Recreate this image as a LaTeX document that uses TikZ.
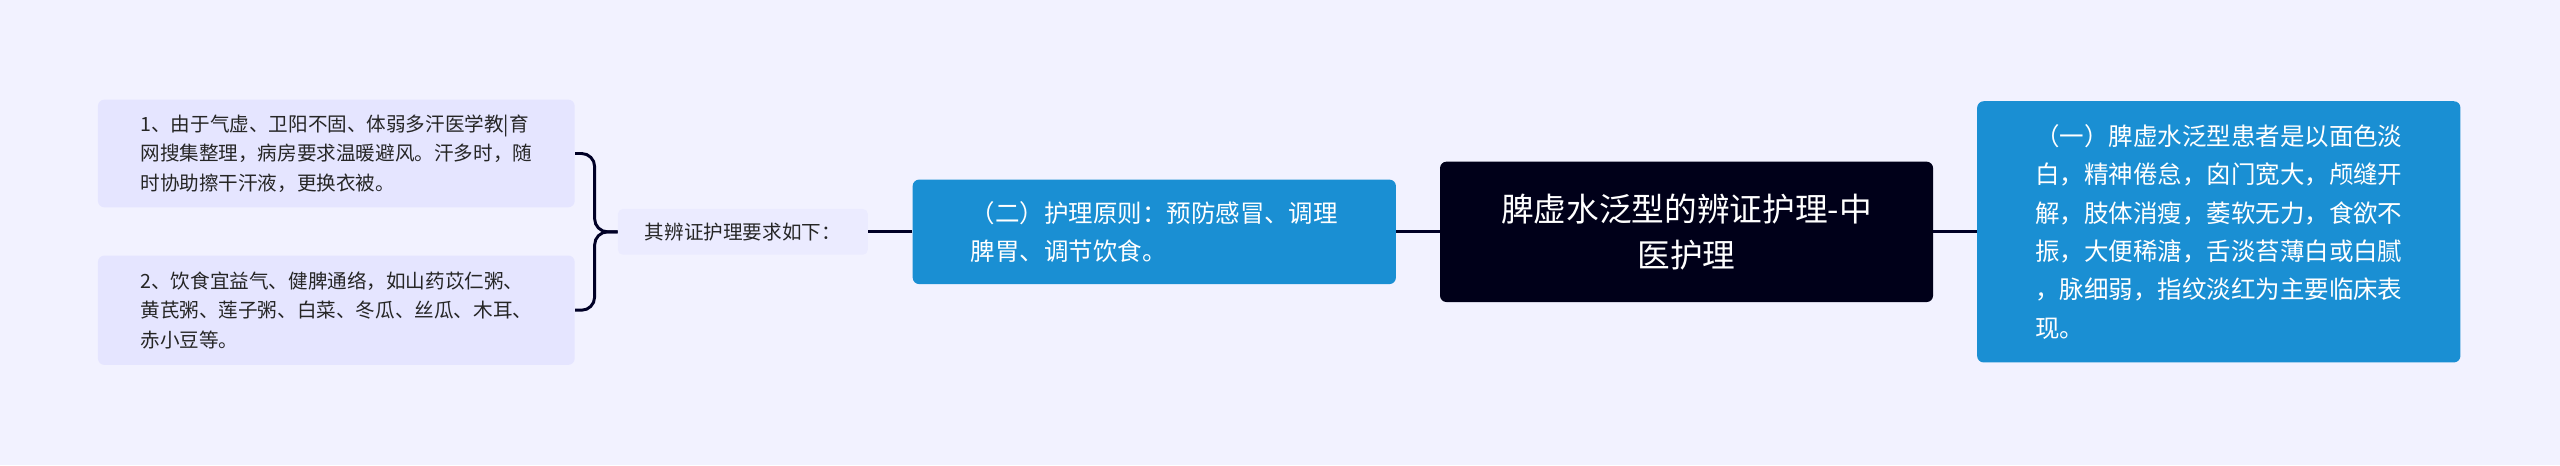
\documentclass[tikz,border=0pt]{standalone}
\usepackage{fontspec}
\setmainfont{Noto Sans CJK SC}
\begin{document}
\begin{tikzpicture}[x=1pt,y=-1pt,
  conn/.style={draw=black!85!blue,line width=1.8pt},
  blue/.style={fill=cyan!45!blue!85!white,draw=cyan!40!blue,rounded corners=4pt,text=white,align=left,inner sep=0pt},
  leaf/.style={fill=blue!10,rounded corners=4pt,text=black!85,align=left,inner sep=0pt,font=\fontsize{12}{18}\selectfont,minimum width=292pt}]
\fill[blue!5!white] (0,0) rectangle (1568,285);
\useasboundingbox (0,0) rectangle (1568,285);
\definecolor{nb}{HTML}{1A8FD3}
\node[fill=black!90!blue,draw=none,rounded corners=4pt,text=white,align=center,minimum width=302pt,minimum height=86pt,font=\fontsize{20}{28}\selectfont] (c) at (1033,142) {脾虚水泛型的辨证护理-中\\医护理};
\node[fill=nb,rounded corners=4pt,text=white,align=left,minimum width=296pt,minimum height=160pt,inner sep=0pt,font=\fontsize{15}{23.5}\selectfont] (r) at (1359,142) {（一）脾虚水泛型患者是以面色淡\\白，精神倦怠，囟门宽大，颅缝开\\解，肢体消瘦，萎软无力，食欲不\\振，大便稀溏，舌淡苔薄白或白腻\\，脉细弱，指纹淡红为主要临床表\\现。};
\node[fill=nb,rounded corners=4pt,text=white,align=left,minimum width=296pt,minimum height=64pt,inner sep=0pt,font=\fontsize{15}{23}\selectfont] (m) at (707,142) {（二）护理原则：预防感冒、调理\\脾胃、调节饮食。};
\node[fill=blue!8,rounded corners=3pt,minimum width=153pt,minimum height=28pt,inner sep=0pt,font=\fontsize{12}{14}\selectfont,text=black!85] (lab) at (455,142) {其辨证护理要求如下：};
\node[leaf,minimum height=66pt] (l1) at (206,94) {1、由于气虚、卫阳不固、体弱多汗医学教|育\\网搜集整理，病房要求温暖避风。汗多时，随\\时协助擦干汗液，更换衣被。};
\node[leaf,minimum height=67pt] (l2) at (206,190) {2、饮食宜益气、健脾通络，如山药苡仁粥、\\黄芪粥、莲子粥、白菜、冬瓜、丝瓜、木耳、\\赤小豆等。};
\draw[conn] (c.east) -- (r.west);
\draw[conn] (c.west) -- (m.east);
\draw[conn] (m.west) -- (lab.east);
\draw[conn,rounded corners=8pt] (l1.east) -- ++(12,0) |- (lab.west);
\draw[conn,rounded corners=8pt] (l2.east) -- ++(12,0) |- (lab.west);
\end{tikzpicture}
\end{document}
